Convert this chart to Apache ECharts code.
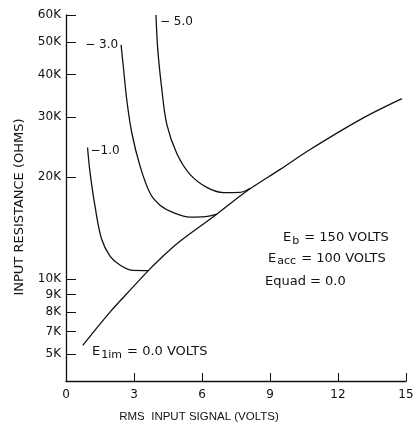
<!DOCTYPE html>
<html>
<head>
<meta charset="utf-8">
<script src="https://cdn.jsdelivr.net/npm/echarts@6/dist/echarts.min.js"></script>
<style>
  html, body { margin: 0; padding: 0; background: #fff; }
  #chart { width: 413px; height: 428px; }
</style>
</head>
<body>
<div id="chart"></div>
<script>
// Input resistance vs RMS input signal, one curve per limiter bias (volts)
const signalBias0 = [0.74, 1.94, 2.68, 3.63, 4.15, 4.96, 6.65, 7.98, 9.45, 10.77, 12.98, 14.82];
const resistBias0 = [6370, 7980, 9040, 10580, 11450, 12810, 15520, 18170, 21040, 24080, 29500, 34000];

const signalBias1 = [0.95, 1.06, 1.28, 1.57, 1.94, 2.38, 2.97, 3.63];
const resistBias1 = [24410, 20620, 16380, 13110, 11680, 10990, 10590, 10580];

const signalBias3 = [2.43, 2.53, 2.68, 2.90, 3.27, 3.71, 4.15, 4.74, 5.47, 6.14, 6.65];
const resistBias3 = [48980, 42210, 33770, 27020, 21470, 17880, 16500, 15680, 15210, 15260, 15520];

const signalBias5 = [3.97, 4.05, 4.23, 4.45, 4.89, 5.47, 6.21, 6.95, 7.68, 8.12];
const resistBias5 = [60000, 47350, 36130, 28520, 23440, 20340, 18620, 17970, 18000, 18500];

// resistance axis tick marks and their printed labels
const resistTicks = [6000, 7000, 8000, 9000, 10000, 20000, 30000, 40000, 50000, 60000];
const resistTickLabels = ['5K', '7K', '8K', '9K', '10K', '20K', '30K', '40K', '50K', '60K'];

const signalTicks = [0, 3, 6, 9, 12, 15];

const lg = v => Math.log10(v);
const pairs = (xs, ys) => xs.map((x, i) => [x, lg(ys[i])]);

const INK = '#111';
const FONT = 'DejaVu Sans';

function curveLabel(text, x, r, position, offset) {
  return {
    symbol: 'circle',
    symbolSize: 0,
    silent: true,
    data: [{
      coord: [x, lg(r)],
      itemStyle: { color: 'rgba(0,0,0,0)' },
      label: {
        show: true, formatter: text, position: position, distance: 3, offset: offset,
        color: INK, fontFamily: FONT, fontSize: 12
      }
    }]
  };
}

function curve(name, xs, ys, marker) {
  return {
    name: name,
    type: 'line',
    data: pairs(xs, ys),
    showSymbol: false,
    smooth: 0.35,
    lineStyle: { color: INK, width: 1.3 },
    silent: true,
    animation: false,
    markPoint: marker
  };
}

function subText(main, sub, rest, left, top, size, drop) {
  return {
    type: 'text', left: left, top: top, silent: true,
    style: {
      text: '{e|' + main + '}{s|' + sub + '}{e|' + rest + '}',
      rich: {
        e: { fill: INK, fontFamily: FONT, fontSize: size },
        s: { fill: INK, fontFamily: FONT, fontSize: size - 2, padding: [drop, 1, 0, 1] }
      }
    }
  };
}

const chart = echarts.init(document.getElementById('chart'), null, { renderer: 'canvas' });

chart.setOption({
  animation: false,
  backgroundColor: '#fff',
  grid: { left: 66, right: 7, top: 15, bottom: 47, containLabel: false, outerBoundsMode: 'none' },
  xAxis: {
    type: 'value',
    min: signalTicks[0],
    max: signalTicks[signalTicks.length - 1],
    interval: 3,
    axisLine: { lineStyle: { color: INK, width: 1.3 } },
    axisTick: { inside: true, length: 8, lineStyle: { color: INK, width: 1 } },
    axisLabel: { color: INK, fontFamily: FONT, fontSize: 12, margin: 8 },
    splitLine: { show: false }
  },
  yAxis: {
    type: 'value',
    min: lg(5000),
    max: lg(60000),
    axisLine: { show: true, lineStyle: { color: INK, width: 1.3 } },
    axisTick: {
      show: true, inside: true, length: 10,
      customValues: resistTicks.map(lg),
      lineStyle: { color: INK, width: 1 }
    },
    axisLabel: {
      color: INK, fontFamily: FONT, fontSize: 12, margin: 5,
      customValues: resistTicks.map(lg),
      formatter: v => {
        const i = resistTicks.findIndex(t => Math.abs(lg(t) - v) < 1e-6);
        return i >= 0 ? resistTickLabels[i] : '';
      }
    },
    splitLine: { show: false }
  },
  series: [
    curve('0.0', signalBias0, resistBias0, undefined),
    curve('-1.0', signalBias1, resistBias1, curveLabel('−1.0', signalBias1[0], resistBias1[0], 'right', [0, 3])),
    curve('-3.0', signalBias3, resistBias3, curveLabel('− 3.0', signalBias3[0], resistBias3[0], 'left', [0, 0])),
    curve('-5.0', signalBias5, resistBias5, curveLabel('− 5.0', signalBias5[0], resistBias5[0], 'right', [1, 7]))
  ],
  graphic: [
    {
      type: 'text', x: 199, y: 417, silent: true,
      style: {
        text: 'RMS  INPUT SIGNAL (VOLTS)', fill: INK, fontFamily: 'Liberation Sans', fontSize: 11.5,
        align: 'center', verticalAlign: 'middle'
      }
    },
    {
      type: 'text', x: 20, y: 207, rotation: Math.PI / 2, silent: true,
      style: {
        text: 'INPUT RESISTANCE (OHMS)', fill: INK, fontFamily: FONT, fontSize: 13,
        align: 'center', verticalAlign: 'middle'
      }
    },
    subText('E', '1im', ' = 0.0 VOLTS', 92, 345, 13, 8),
    subText('E', 'b', ' = 150 VOLTS', 283, 231, 13, 7),
    subText('E', 'acc', ' = 100 VOLTS', 268, 252, 13, 5),
    {
      type: 'text', left: 265, top: 275, silent: true,
      style: { text: 'Equad = 0.0', fill: INK, fontFamily: FONT, fontSize: 13 }
    }
  ]
});
</script>
</body>
</html>
